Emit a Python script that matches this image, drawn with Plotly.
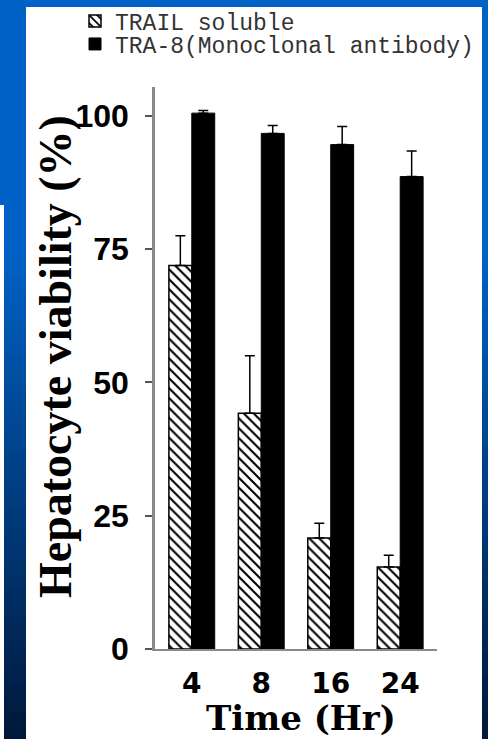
import plotly.graph_objects as go

# ---- data ----
times = ["4", "8", "16", "24"]
trail = [71.9, 44.2, 20.8, 15.4]
trail_err = [5.6, 10.8, 2.8, 2.2]
tra8 = [100.5, 96.7, 94.6, 88.6]
tra8_err = [0.5, 1.5, 3.4, 4.8]
y_ticks = [0, 25, 50, 75, 100]
series_names = ["TRAIL soluble", "TRA-8(Monoclonal antibody)"]

W, H = 488, 739
L, R, T, B = 155, 51, 87, 90
PW, PH = W - L - R, H - T - B


def px(x):
    return (x - L) / PW


def py(y):
    return (H - B - y) / PH


fig = go.Figure()
fig.add_trace(go.Bar(
    x=times, y=trail, name=series_names[0], legend="legend",
    marker=dict(color="white", line=dict(color="black", width=1.5),
                pattern=dict(shape="\\", fgcolor="black", bgcolor="white",
                             size=7, solidity=0.3, fillmode="replace")),
    error_y=dict(type="data", array=trail_err, arrayminus=[0] * 4,
                 symmetric=False, color="black", thickness=1.5, width=5),
))
fig.add_trace(go.Bar(
    x=times, y=tra8, name=series_names[1], legend="legend2",
    marker=dict(color="black", line=dict(color="black", width=1)),
    error_y=dict(type="data", array=tra8_err, arrayminus=[0] * 4,
                 symmetric=False, color="black", thickness=1.5, width=5),
))

# ---- blue frame (style only) ----
top_c = (0, 98, 198)
bot_c = (0, 24, 58)


def grad(y):
    t = min(max((y - 250) / (739 - 250), 0), 1)
    return "rgb(%d,%d,%d)" % tuple(round(a + (b - a) * t) for a, b in zip(top_c, bot_c))


shapes = []
shapes.append(dict(type="rect", xref="paper", yref="paper", layer="below",
                   x0=px(-2), x1=px(W + 2), y0=py(-2), y1=py(7),
                   fillcolor=grad(0), line=dict(width=0)))
shapes.append(dict(type="rect", xref="paper", yref="paper", layer="below",
                   x0=px(-2), x1=px(26), y0=py(-2), y1=py(205),
                   fillcolor=grad(0), line=dict(width=0)))
N = 60
# stacked slices, each running to the bottom, so no gaps appear between them
for i in range(N):
    y0 = 205 + (H - 205) * i / N
    y1 = 205 + (H - 205) * (i + 1) / N
    shapes.append(dict(type="rect", xref="paper", yref="paper", layer="below",
                       x0=px(4), x1=px(26), y0=py(y0), y1=py(H + 2),
                       fillcolor=grad((y0 + y1) / 2), line=dict(width=0)))
for i in range(N):
    y0 = H * i / N
    y1 = H * (i + 1) / N
    shapes.append(dict(type="rect", xref="paper", yref="paper", layer="below",
                       x0=px(482), x1=px(W + 2), y0=py(y0), y1=py(H + 2),
                       fillcolor=grad((y0 + y1) / 2), line=dict(width=0)))

legend_font = dict(family="Liberation Mono", size=23, color="#333")

fig.update_layout(
    width=W, height=H,
    margin=dict(l=L, r=R, t=T, b=B, pad=0, autoexpand=False),
    paper_bgcolor="white", plot_bgcolor="white",
    barmode="group", bargap=0.34, bargroupgap=0,
    showlegend=True,
    legend=dict(x=px(75), y=py(21), xanchor="left", yanchor="middle",
                font=legend_font, bgcolor="rgba(0,0,0,0)", borderwidth=0),
    legend2=dict(x=px(75), y=py(44), xanchor="left", yanchor="middle",
                 font=legend_font, bgcolor="rgba(0,0,0,0)", borderwidth=0),
    shapes=shapes,
    xaxis=dict(type="category", range=[-0.53, 3.53], showline=True,
               linecolor="#8a8a8a", linewidth=2, ticks="", showgrid=False,
               tickfont=dict(family="DejaVu Sans", size=28, color="black", weight="bold"),
               ticklabelstandoff=8, zeroline=False),
    yaxis=dict(range=[0, 105.4], tickvals=y_ticks, showline=True,
               linecolor="#8a8a8a", linewidth=2.5, ticks="outside", ticklen=7,
               tickwidth=1.5, tickcolor="#555", showgrid=False, zeroline=False,
               tickfont=dict(family="Liberation Sans", size=32, color="black", weight="bold"),
               ticklabelstandoff=10),
    annotations=[
        dict(text="Hepatocyte viability (%)", textangle=-90, xref="paper", yref="paper",
             x=px(55.5), y=py(356.5), xanchor="center", yanchor="middle", showarrow=False,
             font=dict(family="Liberation Serif", size=46, color="black", weight="bold")),
        dict(text="Time (Hr)", xref="paper", yref="paper",
             x=px(300.5), y=py(718), xanchor="center", yanchor="middle", showarrow=False,
             font=dict(family="DejaVu Serif", size=34, color="black", weight="bold")),
    ],
)

fig.write_html("out.html", config={"displayModeBar": False},
               post_script="document.body.style.margin='0';document.body.style.overflow='hidden';")
